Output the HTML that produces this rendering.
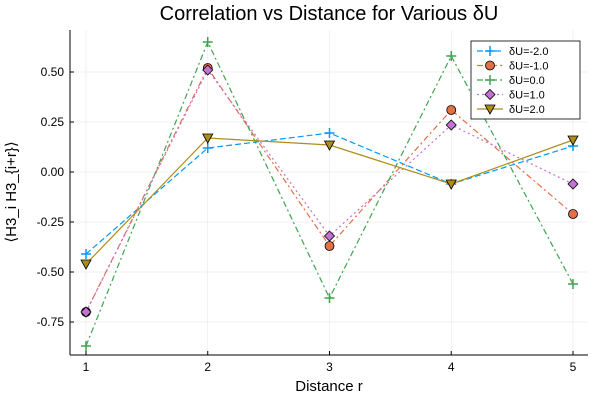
<!DOCTYPE html>
<html><head><meta charset="utf-8"><style>
body{margin:0;background:#fff}
svg text{font-family:"Liberation Sans","DejaVu Sans",sans-serif}
</style></head><body>
<svg id="chart" width="600" height="400" xmlns="http://www.w3.org/2000/svg">
<rect width="600" height="400" fill="#fff"/>
<text x="329" y="20" font-size="20" text-anchor="middle" fill="#000">Correlation vs Distance for Various δU</text>
<g id="grid"></g><g id="axes"></g><g id="series"></g><g id="legend"></g>
<text x="329" y="391" font-size="15" text-anchor="middle">Distance r</text>
<text transform="translate(16,192) rotate(-90)" font-size="15" text-anchor="middle">⟨H3_i H3_{i+r}⟩</text>
</svg>
<script>
const categories=[1,2,3,4,5];
const seriesNames=["δU=-2.0","δU=-1.0","δU=0.0","δU=1.0","δU=2.0"];
const sM2=[-0.41,0.12,0.195,-0.06,0.13];
const sM1=[-0.70,0.52,-0.37,0.31,-0.21];
const s0=[-0.87,0.65,-0.63,0.58,-0.56];
const s1=[-0.70,0.51,-0.32,0.235,-0.06];
const s2=[-0.46,0.17,0.135,-0.06,0.16];
const yTicks=[-0.75,-0.5,-0.25,0,0.25,0.5];
const yTickLabels=["-0.75","-0.50","-0.25","0.00","0.25","0.50"];
const allSeries=[sM2,sM1,s0,s1,s2];
const colors=["#009AFA","#E36F47","#3EA44E","#C371D2","#AC8D18"];
const dashes=["6,3","6,3,2,3","6,3,2,3","2,3",""];
const markers=["plus","circle","plus","diamond","tri"];
const X=v=>86+(v-1)*121.75, Y=v=>172-v*200;
const L=70,R=588,T=30,B=355;
const ns="http://www.w3.org/2000/svg";
function mk(tag,attrs,parent){const e=document.createElementNS(ns,tag);for(const k in attrs)e.setAttribute(k,attrs[k]);parent.appendChild(e);return e;}
const grid=document.getElementById('grid'),axes=document.getElementById('axes'),ser=document.getElementById('series'),leg=document.getElementById('legend');
categories.forEach(c=>{
 const g=mk('line',{x1:X(c),x2:X(c),y1:T,y2:B,stroke:"#000","stroke-opacity":0.1,"stroke-width":0.5},grid);
 
 const t=mk('text',{x:X(c),y:B+16,"font-size":12,"text-anchor":"middle"},axes);t.textContent=c;
 
 mk('line',{x1:X(c),x2:X(c),y1:B,y2:B-4,stroke:"#000"},axes);
});
yTicks.forEach((v,i)=>{
 const g=mk('line',{x1:L,x2:R,y1:Y(v),y2:Y(v),stroke:"#000","stroke-opacity":0.1,"stroke-width":0.5},grid);
 
 const t=mk('text',{x:L-6,y:Y(v)+4,"font-size":12,"text-anchor":"end"},axes);t.textContent=yTickLabels[i];
 
 mk('line',{x1:L,x2:L+4,y1:Y(v),y2:Y(v),stroke:"#000"},axes);
});
mk('line',{x1:L,x2:R,y1:B,y2:B,stroke:"#000"},axes);
mk('line',{x1:L,x2:L,y1:T,y2:B,stroke:"#000"},axes);
function marker(type,x,y,c,p){
 if(type=="plus"){const g=mk('path',{d:`M${x-5},${y}H${x+5}M${x},${y-5}V${y+5}`,stroke:c,"stroke-width":1.5,fill:"none"},p);return g;}
 if(type=="circle")return mk('circle',{cx:x,cy:y,r:4.5,fill:c,stroke:"#000","stroke-width":0.8},p);
 if(type=="diamond")return mk('path',{d:`M${x},${y-5}L${x+5},${y}L${x},${y+5}L${x-5},${y}Z`,fill:c,stroke:"#000","stroke-width":0.8},p);
 return mk('path',{d:`M${x-5},${y-4}L${x+5},${y-4}L${x},${y+5}Z`,fill:c,stroke:"#000","stroke-width":0.8},p);
}
allSeries.forEach((s,i)=>{
 const g=mk('g',{},ser);
 const l=mk('polyline',{points:s.map((v,j)=>X(categories[j])+","+Y(v)).join(" "),fill:"none",stroke:colors[i],"stroke-width":1.2,"stroke-dasharray":dashes[i]},g);
 
 s.forEach((v,j)=>{const m=marker(markers[i],X(categories[j]),Y(v),colors[i],g);
  });
});
const box=mk('rect',{x:471,y:41,width:109,height:78,fill:"#fff",stroke:"#000","stroke-width":0.8},leg);

seriesNames.forEach((n,i)=>{
 const y=51+i*14.5;
 const g=mk('g',{},leg);
 mk('line',{x1:477,x2:503,y1:y,y2:y,stroke:colors[i],"stroke-width":1.2,"stroke-dasharray":dashes[i]},g);
 marker(markers[i],490,y,colors[i],g);
 const t=mk('text',{x:509,y:y+4,"font-size":11},g);t.textContent=n;
});
</script>
</body></html>
